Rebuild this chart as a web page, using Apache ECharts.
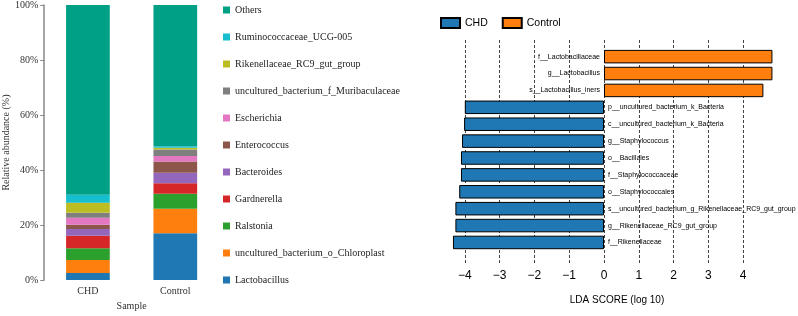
<!DOCTYPE html>
<html>
<head>
<meta charset="utf-8">
<script src="https://cdn.jsdelivr.net/npm/echarts@6/dist/echarts.min.js"></script>
<style>
html, body { margin: 0; padding: 0; background: #fff; }
#chart { width: 798px; height: 316px; }
</style>
</head>
<body>
<div id="chart"></div>
<script>
// 左图：相对丰度堆叠柱
var samples = ['CHD', 'Control'];
var taxa = ['Lactobacillus', 'uncultured_bacterium_o_Chloroplast', 'Ralstonia', 'Gardnerella',
    'Bacteroides', 'Enterococcus', 'Escherichia', 'uncultured_bacterium_f_Muribaculaceae',
    'Rikenellaceae_RC9_gut_group', 'Ruminococcaceae_UCG-005', 'Others'];
var chdAbund = [2.6, 4.7, 4.3, 4.5, 2.5, 1.5, 2.6, 1.8, 3.6, 2.9, 69.0];
var controlAbund = [17.0, 8.9, 5.5, 3.8, 3.8, 4.1, 2.0, 2.4, 0.6, 0.6, 51.3];
var taxaColors = ['#1f77b4', '#ff7f0e', '#2ca02c', '#d62728', '#9467bd', '#8c564b',
    '#e377c2', '#7f7f7f', '#bcbd22', '#17becf', '#00a087'];

// 右图：LDA 得分
var features = ['f__Lactobacillaceae', 'g__Lactobacillus', 's__Lactobacillus_iners',
    'p__uncultured_bacterium_k_Bacteria', 'c__uncultured_bacterium_k_Bacteria',
    'g__Staphylococcus', 'o__Bacillales', 'f__Staphylococcaceae', 'o__Staphylococcales',
    's__uncultured_bacterium_g_Rikenellaceae_RC9_gut_group', 'g__Rikenellaceae_RC9_gut_group',
    'f__Rikenellaceae'];
var ldaScores = [4.84, 4.84, 4.58, -4.00, -4.02, -4.08, -4.11, -4.11, -4.16, -4.27, -4.27, -4.34];
var ldaGroup = ['Control', 'Control', 'Control', 'CHD', 'CHD', 'CHD', 'CHD', 'CHD', 'CHD', 'CHD', 'CHD', 'CHD'];
var groupColors = { CHD: '#1f77b4', Control: '#ff7f0e' };

var serif = '"Liberation Serif", "Times New Roman", serif';
var sans = '"Liberation Sans", Arial, sans-serif';

var chart = echarts.init(document.getElementById('chart'));

var series = [];
for (var i = 0; i < taxa.length; i++) {
    series.push({
        name: taxa[i],
        type: 'bar',
        stack: 'abund',
        xAxisIndex: 0,
        yAxisIndex: 0,
        barWidth: '50%',
        itemStyle: { color: taxaColors[i] },
        data: [chdAbund[i], controlAbund[i]]
    });
}

['CHD', 'Control'].forEach(function (g) {
    var d = [];
    for (var k = 0; k < features.length; k++) {
        d.push(ldaGroup[k] === g ? ldaScores[k] : '-');
    }
    series.push({
        name: g,
        type: 'bar',
        xAxisIndex: 1,
        yAxisIndex: 1,
        barWidth: '80%',
        barGap: '-100%',
        itemStyle: { color: groupColors[g], borderColor: '#000', borderWidth: 1 },
        label: {
            show: true,
            position: g === 'CHD' ? 'right' : 'left',
            distance: 4,
            fontFamily: sans,
            fontSize: 7,
            color: '#000',
            formatter: function (p) { return p.name; }
        },
        data: d
    });
});

option = {
    animation: false,
    title: {
        text: 'LDA SCORE (log 10)',
        left: 612,
        top: 290,
        textAlign: 'center',
        textStyle: { fontFamily: sans, fontSize: 10, fontWeight: 'normal', color: '#000' }
    },
    legend: [
        {
            orient: 'vertical',
            left: 223,
            top: 4,
            padding: 0,
            icon: 'rect',
            itemWidth: 7,
            itemHeight: 7,
            itemGap: 15,
            textStyle: { fontFamily: serif, fontSize: 10, color: '#222', lineHeight: 12 },
            data: taxa.slice().reverse()
        },
        {
            left: 440,
            top: 17,
            padding: 0,
            icon: 'rect',
            itemWidth: 19,
            itemHeight: 10,
            itemGap: 14,
            textStyle: { fontFamily: sans, fontSize: 10.5, color: '#000' },
            data: ['CHD', 'Control']
        }
    ],
    grid: [
        { left: 43, width: 176, top: 4.7, height: 281.3 },
        { left: 430, width: 348, top: 48.2, height: 202.7 },
        { left: 430, width: 348, top: 40, height: 223 }
    ],
    xAxis: [
        {
            type: 'category',
            gridIndex: 0,
            data: samples,
            name: 'Sample',
            nameLocation: 'middle',
            nameGap: 19,
            nameTextStyle: { fontFamily: serif, fontSize: 10, color: '#333' },
            axisLine: { show: false },
            axisTick: { show: false },
            axisLabel: { margin: 6, fontFamily: serif, fontSize: 10, color: '#333' }
        },
        {
            type: 'value',
            gridIndex: 1,
            min: -5,
            max: 5,
            show: false
        },
        {
            type: 'value',
            gridIndex: 2,
            min: -5,
            max: 5,
            interval: 1,
            axisLine: { show: false },
            axisTick: { show: false },
            axisLabel: {
                margin: 7,
                showMinLabel: false,
                showMaxLabel: false,
                fontFamily: sans,
                fontSize: 12,
                color: '#000',
                formatter: function (v) { return String(v).replace('-', '\u2212'); }
            },
            splitLine: {
                show: true,
                showMinLine: false,
                showMaxLine: false,
                lineStyle: { color: '#444', width: 1, type: [3, 2] }
            }
        }
    ],
    yAxis: [
        {
            type: 'value',
            gridIndex: 0,
            min: 0,
            max: 100,
            interval: 20,
            name: 'Relative abundance (%)',
            nameLocation: 'middle',
            nameGap: 33,
            nameTextStyle: { fontFamily: serif, fontSize: 10, color: '#333' },
            axisLine: { show: true, lineStyle: { color: '#888', width: 1.5 } },
            axisTick: { show: true, length: 4, lineStyle: { color: '#888' } },
            splitLine: { show: false },
            axisLabel: {
                margin: 6,
                fontFamily: serif,
                fontSize: 10,
                color: '#333',
                formatter: '{value}%'
            }
        },
        {
            type: 'category',
            gridIndex: 1,
            inverse: true,
            data: features,
            show: false
        },
        {
            type: 'value',
            gridIndex: 2,
            min: 0,
            max: 1,
            show: false
        }
    ],
    series: series
};

chart.setOption(option);
</script>
</body>
</html>
